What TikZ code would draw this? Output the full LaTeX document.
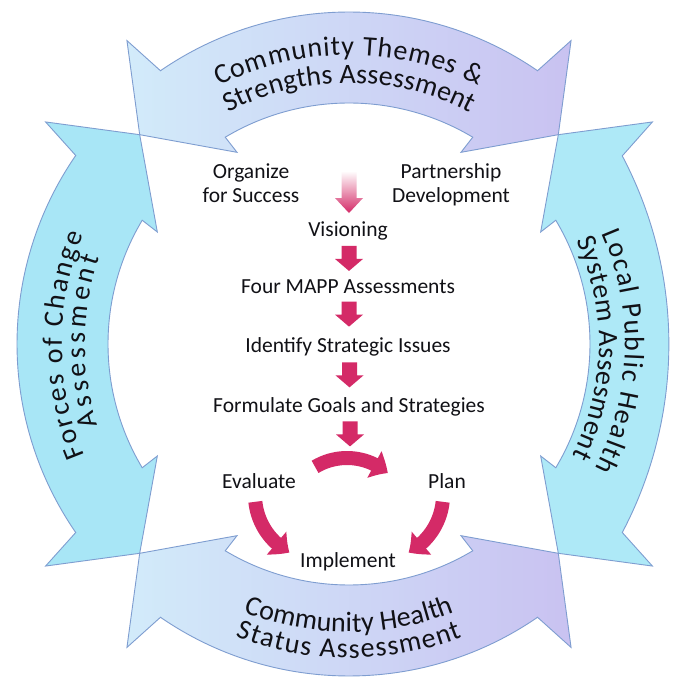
\documentclass[tikz,border=0pt]{standalone}
\usepackage{fontspec}
\setmainfont{Carlito}
\usetikzlibrary{decorations.text,arrows.meta,bending,calc}
\definecolor{edgec}{HTML}{7E9DD0}
\definecolor{lblue}{HTML}{D2EBFA}
\definecolor{lav}{HTML}{C9C2F1}
\definecolor{cyanA}{HTML}{A8E6F6}
\definecolor{cyanB}{HTML}{AEE9F7}
\definecolor{pinkc}{HTML}{D42A67}
\definecolor{txt}{HTML}{111116}
\newcommand\ringfont{\fontsize{28}{32}\selectfont}
\newcommand\ringarrow[2]{%
  \path[#2] ({#1-34.6}:332) arc[start angle={#1-34.6}, end angle={#1+34.6}, radius=332]
    -- ({#1+36.2}:376) -- ({#1+45}:296) -- ({#1+30.3}:222) -- ({#1+30.9}:241)
    arc[start angle={#1+30.9}, end angle={#1-30.9}, radius=241]
    -- ({#1-30.3}:222) -- ({#1-45}:296) -- ({#1-36.2}:376) -- cycle;}
\tikzset{
  ringedge/.style={draw=edgec, line width=0.9pt, line join=miter},
  ctext/.style={font=\fontsize{21.5}{24}\selectfont, inner sep=0pt, text=txt, anchor=base, align=center},
  ringtext/.style={decorate, decoration={text along path, text color=txt, text align={fit to path}, text={#1}}},
  pinkarc/.style={draw=pinkc, line width=14pt, -{Triangle[width=29pt,length=16pt,bend]}},
  downarr/.pic={\fill[pinkc] (-7.5,12.5) -- (7.5,12.5) -- (7.5,-0.5) -- (14,-0.5) -- (0,-12.5) -- (-14,-0.5) -- (-7.5,-0.5) -- cycle;},
  fadearr/.pic={\shade[top color=white, bottom color=pinkc] (-7.5,21) -- (7.5,21) -- (7.5,-6) -- (14,-6) -- (0,-21) -- (-14,-6) -- (-7.5,-6) -- cycle;}
}
\begin{document}
\begin{tikzpicture}[x=1pt,y=1pt]
\useasboundingbox (-349,-335) rectangle (330,344);
\fill[white] (-349,-335) rectangle (330,344);
% ring arrows
\ringarrow{90}{ringedge, left color=lblue, right color=lav}
\ringarrow{180}{ringedge, fill=cyanA}
\path[ringedge, fill=cyanB] (-34.6:332) arc[start angle=-27.8, end angle=27.8, radius=403.8]
    -- (36.2:376) -- (45:296) -- (30.3:222) -- (30.9:241)
    arc[start angle=30.9, end angle=-30.9, radius=241]
    -- (-30.3:222) -- (-45:296) -- (-36.2:376) -- cycle;
\ringarrow{270}{ringedge, left color=lblue, right color=lav}
% ring labels
\path[ringtext={|\ringfont|Community Themes {\&}}] (116.7:289) arc[start angle=116.7, end angle=63.3, radius=289];
\path[ringtext={|\ringfont|Strengths Assessment}] (117.6:261) arc[start angle=117.6, end angle=62.4, radius=261];
\path[ringtext={|\ringfont|Forces of Change}] (202.8:287) arc[start angle=202.8, end angle=157.6, radius=287];
\path[ringtext={|\ringfont|Assessment}] (197.9:264) arc[start angle=197.9, end angle=160.8, radius=264];
\path[ringtext={|\ringfont|Local Public Health}] (23.6:276) arc[start angle=23.6, end angle=-26.9, radius=276];
\path[ringtext={|\ringfont|System Assesment}] (24.5:250) arc[start angle=24.5, end angle=-26.5, radius=250];
\path[ringtext={|\ringfont|Community Health}] (248.5:288) arc[start angle=248.5, end angle=291.5, radius=288];
\path[ringtext={|\ringfont|Status Assessment}] (248.8:314) arc[start angle=248.8, end angle=291.2, radius=314];
% central texts
\node[ctext] (org) at (-98,141) {Organize\\for Success};
\node[ctext] (part) at (102,141) {Partnership\\Development};
\node[ctext] (vis) at (-1,107) {Visioning};
\node[ctext] (four) at (-1,50) {Four MAPP Assessments};
\node[ctext] (iden) at (-1,-9) {Identify Strategic Issues};
\node[ctext] (form) at (0,-68) {Formulate Goals and Strategies};
\node[ctext] (eval) at (-90,-144) {Evaluate};
\node[ctext] (plan) at (98,-144) {Plan};
\node[ctext] (impl) at (-1,-223) {Implement};
% block arrows
\pic at ($(vis.north)+(1,30)$) {fadearr};
\pic at ($(vis.south)!0.5!(four.north)+(1,2)$) {downarr};
\pic at ($(four.south)!0.5!(iden.north)+(1,2)$) {downarr};
\pic at ($(iden.south)!0.5!(form.north)+(1,2)$) {downarr};
\coordinate (fdown) at ($(form.south)+(1,-18)$);
\pic at (fdown) {downarr};
% curved arrows
\coordinate (ctop) at (-2,-176);
\coordinate (cleft) at (-29,-151);
\coordinate (cright) at (29,-151);
\draw[pinkarc] ($(ctop)+(121:62)$) arc[start angle=121, end angle=49, radius=62];
\draw[pinkarc] ($(cleft)+(186:65)$) arc[start angle=186, end angle=242, radius=65];
\draw[pinkarc] ($(cright)+(-6:65)$) arc[start angle=-6, end angle=-62, radius=65];
\end{tikzpicture}
\end{document}
